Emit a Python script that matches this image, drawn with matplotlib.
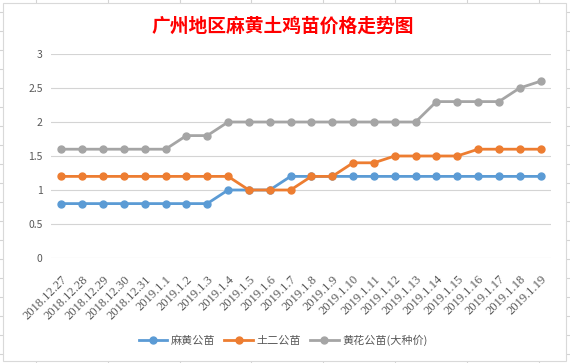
import matplotlib.pyplot as plt
from matplotlib.lines import Line2D
from matplotlib.patches import Rectangle

plt.rcParams['font.family'] = ['Noto Sans CJK SC', 'DejaVu Sans']

dates = ['2018.12.27', '2018.12.28', '2018.12.29', '2018.12.30', '2018.12.31',
         '2019.1.1', '2019.1.2', '2019.1.3', '2019.1.4', '2019.1.5', '2019.1.6',
         '2019.1.7', '2019.1.8', '2019.1.9', '2019.1.10', '2019.1.11', '2019.1.12',
         '2019.1.13', '2019.1.14', '2019.1.15', '2019.1.16', '2019.1.17',
         '2019.1.18', '2019.1.19']
mahuang = [0.8, 0.8, 0.8, 0.8, 0.8, 0.8, 0.8, 0.8, 1.0, 1.0, 1.0, 1.2,
           1.2, 1.2, 1.2, 1.2, 1.2, 1.2, 1.2, 1.2, 1.2, 1.2, 1.2, 1.2]
tuer = [1.2, 1.2, 1.2, 1.2, 1.2, 1.2, 1.2, 1.2, 1.2, 1.0, 1.0, 1.0,
        1.2, 1.2, 1.4, 1.4, 1.5, 1.5, 1.5, 1.5, 1.6, 1.6, 1.6, 1.6]
huanghua = [1.6, 1.6, 1.6, 1.6, 1.6, 1.6, 1.8, 1.8, 2.0, 2.0, 2.0, 2.0,
            2.0, 2.0, 2.0, 2.0, 2.0, 2.0, 2.3, 2.3, 2.3, 2.3, 2.5, 2.6]
series_names = ['麻黄公苗', '土二公苗', '黄花公苗(大种价)']
colors = ['#5B9BD5', '#ED7D31', '#A5A5A5']
yticks = [0, 0.5, 1, 1.5, 2, 2.5, 3]

W, H = 570, 363
fig = plt.figure(figsize=(5.70, 3.63), dpi=100)

# spreadsheet cells behind the chart
for x in [36, 108, 180, 251, 323, 395, 467, 539]:
    fig.add_artist(Line2D([x / W, x / W], [0, 1], color='#D4D4D4', lw=0.8, zorder=-2))
for y in range(12, H, 19):
    fig.add_artist(Line2D([0, 1], [1 - y / H, 1 - y / H], color='#D4D4D4', lw=0.8, zorder=-2))
fig.add_artist(Rectangle((3 / W, 1 - 361 / H), 563 / W, 358 / H, facecolor='white',
                         edgecolor='#D9D9D9', lw=0.8, zorder=-1))

ax = fig.add_axes([51 / W, 1 - 258 / H, 500 / W, 204 / H])
ax.set_facecolor('none')
x = list(range(len(dates)))
for vals, name, c in zip([mahuang, tuer, huanghua], series_names, colors):
    ax.plot(x, vals, color=c, lw=2, marker='o', markersize=5, label=name, zorder=3)

ax.set_xlim(-0.5, len(dates) - 0.5)
ax.set_ylim(0, 3)
ax.set_yticks(yticks)
ax.set_yticklabels(['0', '0.5', '1', '1.5', '2', '2.5', '3'], fontsize=7.5, color='#595959')
ax.grid(axis='y', color='#D4D4D4', lw=0.8)
ax.set_axisbelow(True)
for s in ax.spines.values():
    s.set_visible(False)
ax.tick_params(length=0, pad=6)
ax.set_xticks(x)
ax.set_xticklabels(dates, rotation=45, ha='right', rotation_mode='anchor',
                   fontsize=9, color='#595959', family='Liberation Serif')
ax.tick_params(axis='x', pad=11)

# title and legend
fig.text(283 / W, 1 - 26 / H, '广州地区麻黄土鸡苗价格走势图', color='red', fontsize=13.5,
         fontweight='bold', ha='center', va='center')
fig.legend(loc='center', bbox_to_anchor=(283 / W, 1 - 340 / H), ncol=3, frameon=False,
           fontsize=8, handlelength=2.6, columnspacing=0.8, handletextpad=0.3,
           labelcolor='#595959')

plt.savefig('out.png', dpi=100)
